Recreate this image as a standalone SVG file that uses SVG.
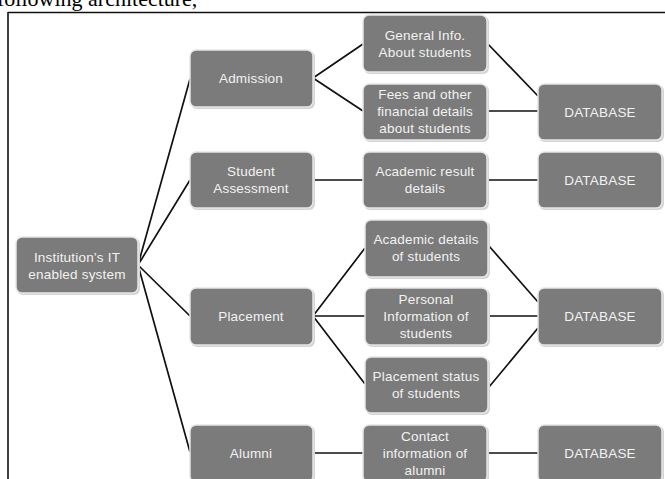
<svg xmlns="http://www.w3.org/2000/svg" width="665" height="479" viewBox="0 0 665 479">
<defs>
<style>
.box{fill:#7b7b7b;stroke:#e6e6e6;stroke-width:1.5}
.sh{fill:#d4d4d4}
.t{font-family:"Liberation Sans",Arial,sans-serif;font-size:13.5px;fill:#f2f2f2;text-anchor:middle;letter-spacing:0.2px}
.c{stroke:#111;stroke-width:1.7;fill:none}
</style>
</defs>
<rect width="665" height="479" fill="#fff"/>
<text x="-3" y="6" font-family="'Liberation Serif','Times New Roman',serif" font-size="22" fill="#000">following architecture,</text>
<path d="M8,12.5 H665 M8,12 V479" stroke="#111" stroke-width="1.6" fill="none"/>

<g id="connectors">
<path class="c" d="M138,265 L190,79 M138,265 L190,180 M138,265 L190,316 M138,265 L190,452"/>
<path class="c" d="M313,78 L363,44 M313,78 L363,111"/>
<path class="c" d="M313,180 H363"/>
<path class="c" d="M313,316 L365,248 M313,316 H365 M313,316 L365,384"/>
<path class="c" d="M313,453 H363"/>
<path class="c" d="M487,43 L538,96 M487,111 H538"/>
<path class="c" d="M487,180 H538"/>
<path class="c" d="M489,246 L538,302 M489,316 H538 M489,387 L538,328"/>
<path class="c" d="M487,453 H538"/>
</g>

<g id="n-inst"><rect class="sh" x="17" y="238" width="123" height="57" rx="6"/><rect class="box" x="16" y="237" width="122" height="56" rx="6"/><text class="t" x="77" y="262">Institution’s IT</text><text class="t" x="77" y="279">enabled system</text></g>

<g id="n-admission"><rect class="sh" x="191" y="51" width="124" height="58" rx="6"/><rect class="box" x="190" y="50" width="123" height="57" rx="6"/><text class="t" x="251" y="83">Admission</text></g>
<g id="n-assess"><rect class="sh" x="191" y="153" width="124" height="57" rx="6"/><rect class="box" x="190" y="152" width="123" height="56" rx="6"/><text class="t" x="251" y="176">Student</text><text class="t" x="251" y="193">Assessment</text></g>
<g id="n-placement"><rect class="sh" x="191" y="289" width="124" height="58" rx="6"/><rect class="box" x="190" y="288" width="123" height="57" rx="6"/><text class="t" x="251" y="321">Placement</text></g>
<g id="n-alumni"><rect class="sh" x="191" y="426" width="124" height="58" rx="6"/><rect class="box" x="190" y="425" width="123" height="57" rx="6"/><text class="t" x="251" y="458">Alumni</text></g>

<g id="n-general"><rect class="sh" x="364" y="16" width="125" height="58" rx="6"/><rect class="box" x="363" y="15" width="124" height="57" rx="6"/><text class="t" x="425" y="40">General Info.</text><text class="t" x="425" y="57">About students</text></g>
<g id="n-fees"><rect class="sh" x="364" y="85" width="125" height="57" rx="6"/><rect class="box" x="363" y="84" width="124" height="56" rx="6"/><text class="t" x="425" y="99">Fees and other</text><text class="t" x="425" y="116">financial details</text><text class="t" x="425" y="133">about students</text></g>
<g id="n-result"><rect class="sh" x="364" y="153" width="125" height="57" rx="6"/><rect class="box" x="363" y="152" width="124" height="56" rx="6"/><text class="t" x="425" y="176">Academic result</text><text class="t" x="425" y="193">details</text></g>
<g id="n-acad"><rect class="sh" x="366" y="221" width="124" height="58" rx="6"/><rect class="box" x="365" y="220" width="123" height="57" rx="6"/><text class="t" x="426" y="244">Academic details</text><text class="t" x="426" y="261">of students</text></g>
<g id="n-personal"><rect class="sh" x="366" y="289" width="124" height="58" rx="6"/><rect class="box" x="365" y="288" width="123" height="57" rx="6"/><text class="t" x="426" y="304">Personal</text><text class="t" x="426" y="321">Information of</text><text class="t" x="426" y="338">students</text></g>
<g id="n-status"><rect class="sh" x="366" y="358" width="124" height="57" rx="6"/><rect class="box" x="365" y="357" width="123" height="56" rx="6"/><text class="t" x="426" y="381">Placement status</text><text class="t" x="426" y="398">of students</text></g>
<g id="n-contact"><rect class="sh" x="364" y="426" width="125" height="58" rx="6"/><rect class="box" x="363" y="425" width="124" height="57" rx="6"/><text class="t" x="425" y="441">Contact</text><text class="t" x="425" y="458">information of</text><text class="t" x="425" y="475">alumni</text></g>

<g id="n-db1"><rect class="sh" x="539" y="85" width="125" height="57" rx="6"/><rect class="box" x="538" y="84" width="124" height="56" rx="6"/><text class="t" x="600" y="117">DATABASE</text></g>
<g id="n-db2"><rect class="sh" x="539" y="153" width="125" height="57" rx="6"/><rect class="box" x="538" y="152" width="124" height="56" rx="6"/><text class="t" x="600" y="185">DATABASE</text></g>
<g id="n-db3"><rect class="sh" x="539" y="289" width="125" height="58" rx="6"/><rect class="box" x="538" y="288" width="124" height="57" rx="6"/><text class="t" x="600" y="321">DATABASE</text></g>
<g id="n-db4"><rect class="sh" x="539" y="426" width="125" height="58" rx="6"/><rect class="box" x="538" y="425" width="124" height="57" rx="6"/><text class="t" x="600" y="458">DATABASE</text></g>
</svg>
